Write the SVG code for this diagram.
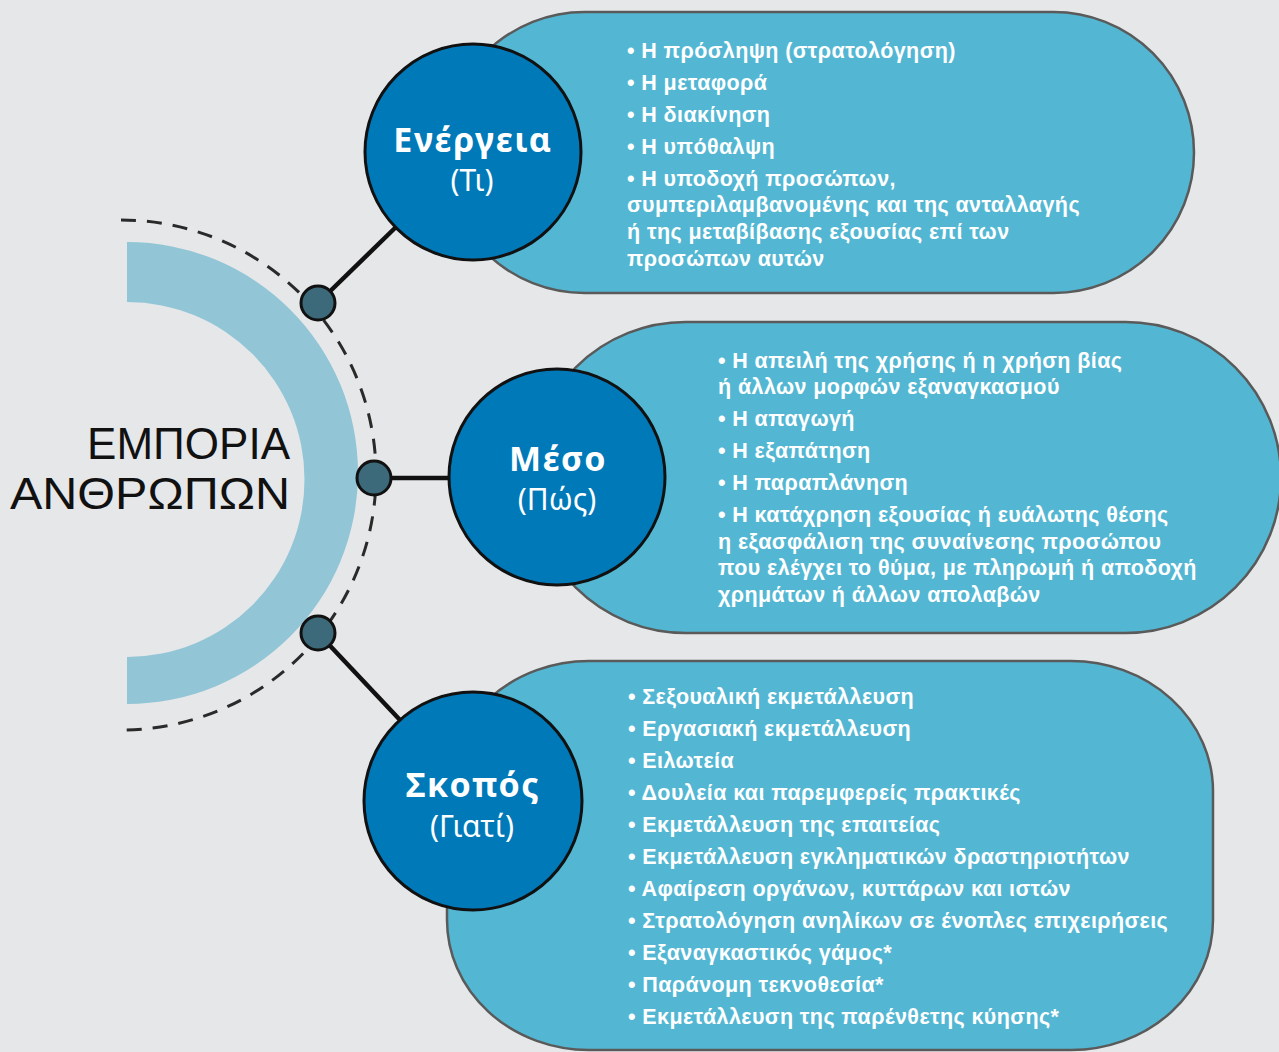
<svg xmlns="http://www.w3.org/2000/svg" width="1279" height="1052" viewBox="0 0 1279 1052">
<style>
.bg{fill:#e6e7e9}
.pill{fill:#53b7d3;stroke:#5a5a5a;stroke-width:2.5}
.hub{fill:#0079b9;stroke:#111;stroke-width:3}
.dot{fill:#3c6a7a;stroke:#111;stroke-width:3}
.conn{stroke:#111;stroke-width:4.5;fill:none;stroke-linecap:butt}
.dash{stroke:#2a2a2a;stroke-width:3;fill:none;stroke-dasharray:15 11}
.title{font-family:"Liberation Sans","Noto Sans",sans-serif;font-size:44px;fill:#111;text-anchor:end}
.lab{font-family:"Noto Sans","Liberation Sans",sans-serif;font-weight:700;font-size:34px;letter-spacing:1.5px;fill:#fff;text-anchor:middle}
.sub{font-family:"Noto Sans","Liberation Sans",sans-serif;font-weight:400;font-size:30px;fill:#fff;text-anchor:middle}
.it{font-family:"Liberation Sans","Noto Sans",sans-serif;font-weight:700;font-size:21.5px;letter-spacing:0.4px;fill:#fff}
</style>
<rect class="bg" x="0" y="0" width="1279" height="1052"/>

<g id="center">
<path d="M127,242 A231,231 0 0 1 127,704 L127,657 A177.5,177.5 0 0 0 127,302 Z" fill="#92c6d6"/>
<path class="dash" d="M121,220 A255,255 0 0 1 121,730"/>
<text class="title" x="290" y="459">ΕΜΠΟΡΙΑ</text>
<text class="title" x="290" y="509" textLength="280" lengthAdjust="spacingAndGlyphs">ΑΝΘΡΩΠΩΝ</text>
</g>

<g id="connectors">
<line class="conn" x1="318" y1="303" x2="396" y2="227"/>
<line class="conn" x1="374" y1="478" x2="450" y2="478"/>
<line class="conn" x1="318" y1="633" x2="400" y2="720"/>
<circle class="dot" cx="318" cy="303" r="17"/>
<circle class="dot" cx="374" cy="478" r="17"/>
<circle class="dot" cx="318" cy="633" r="17"/>
</g>

<g id="node-energeia">
<rect class="pill" x="444" y="12" width="750" height="281" rx="140.5"/>
<circle class="hub" cx="473" cy="152" r="108"/>
<text class="lab" x="473" y="152">Ενέργεια</text>
<text class="sub" x="472" y="191">(Τι)</text>
<text class="it" x="627" y="58">• Η πρόσληψη (στρατολόγηση)</text>
<text class="it" x="627" y="90">• Η μεταφορά</text>
<text class="it" x="627" y="122">• Η διακίνηση</text>
<text class="it" x="627" y="154">• Η υπόθαλψη</text>
<text class="it" x="627" y="186">• Η υποδοχή προσώπων,<tspan x="627" y="212">συμπεριλαμβανομένης και της ανταλλαγής</tspan><tspan x="627" y="239">ή της μεταβίβασης εξουσίας επί των</tspan><tspan x="627" y="266">προσώπων αυτών</tspan></text>
</g>

<g id="node-meso">
<rect class="pill" x="530" y="322" width="751" height="311" rx="155.5"/>
<circle class="hub" cx="557" cy="477" r="108"/>
<text class="lab" x="558" y="471">Μέσο</text>
<text class="sub" x="557" y="510">(Πώς)</text>
<text class="it" x="718" y="368">• Η απειλή της χρήσης ή η χρήση βίας<tspan x="718" y="394">ή άλλων μορφών εξαναγκασμού</tspan></text>
<text class="it" x="718" y="426">• Η απαγωγή</text>
<text class="it" x="718" y="458">• Η εξαπάτηση</text>
<text class="it" x="718" y="490">• Η παραπλάνηση</text>
<text class="it" x="718" y="522">• Η κατάχρηση εξουσίας ή ευάλωτης θέσης<tspan x="718" y="549">η εξασφάλιση της συναίνεσης προσώπου</tspan><tspan x="718" y="575">που ελέγχει το θύμα, με πληρωμή ή αποδοχή</tspan><tspan x="718" y="602">χρημάτων ή άλλων απολαβών</tspan></text>
</g>

<g id="node-skopos">
<rect class="pill" x="447" y="661" width="766" height="389" rx="142" ry="130"/>
<circle class="hub" cx="473" cy="801" r="109"/>
<text class="lab" x="473" y="797">Σκοπός</text>
<text class="sub" x="472" y="837">(Γιατί)</text>
<text class="it" x="628" y="704">• Σεξουαλική εκμετάλλευση</text>
<text class="it" x="628" y="736">• Εργασιακή εκμετάλλευση</text>
<text class="it" x="628" y="768">• Ειλωτεία</text>
<text class="it" x="628" y="800">• Δουλεία και παρεμφερείς πρακτικές</text>
<text class="it" x="628" y="832">• Εκμετάλλευση της επαιτείας</text>
<text class="it" x="628" y="864">• Εκμετάλλευση εγκληματικών δραστηριοτήτων</text>
<text class="it" x="628" y="896">• Αφαίρεση οργάνων, κυττάρων και ιστών</text>
<text class="it" x="628" y="928">• Στρατολόγηση ανηλίκων σε ένοπλες επιχειρήσεις</text>
<text class="it" x="628" y="960">• Εξαναγκαστικός γάμος*</text>
<text class="it" x="628" y="992">• Παράνομη τεκνοθεσία*</text>
<text class="it" x="628" y="1024">• Εκμετάλλευση της παρένθετης κύησης*</text>
</g>
</svg>
